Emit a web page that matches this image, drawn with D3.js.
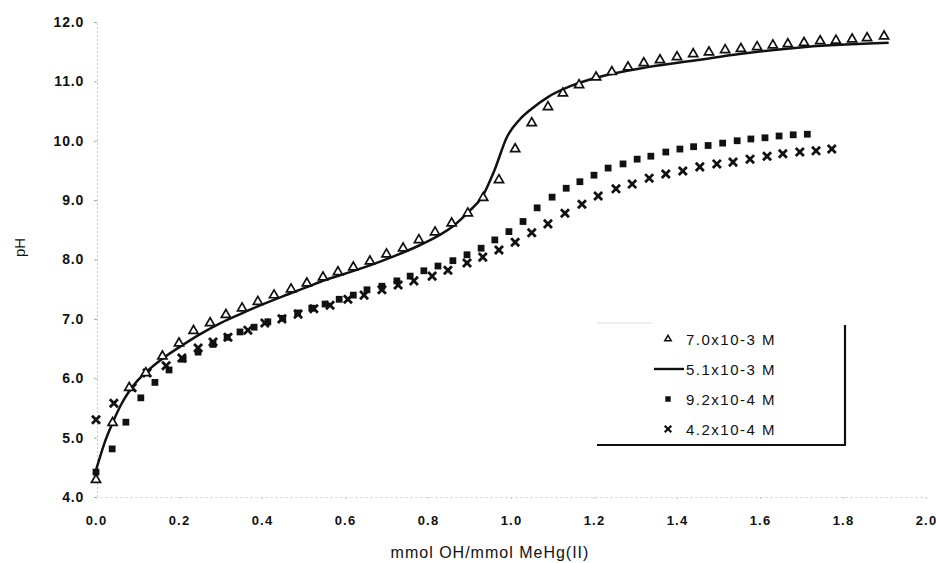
<!DOCTYPE html>
<html>
<head>
<meta charset="utf-8">
<script src="https://cdn.jsdelivr.net/npm/d3@7"></script>
<style>
  body { margin: 0; background: #fff; }
  text { font-family: "Liberation Sans", Arial, sans-serif; fill: #111; }
</style>
</head>
<body>
<div id="graph"></div>
<script>
// Data
var triX = [0, 0.04, 0.08, 0.12, 0.16, 0.2, 0.235, 0.275, 0.313, 0.352, 0.39, 0.429, 0.47, 0.508, 0.547, 0.583, 0.62, 0.66, 0.70, 0.74, 0.778, 0.817, 0.857, 0.896, 0.933, 0.971, 1.01, 1.05, 1.089, 1.125, 1.164, 1.205, 1.243, 1.282, 1.32, 1.359, 1.40, 1.439, 1.477, 1.516, 1.554, 1.593, 1.631, 1.667, 1.706, 1.745, 1.783, 1.822, 1.858, 1.899];
var triPH = [4.29, 5.25, 5.84, 6.09, 6.37, 6.59, 6.80, 6.93, 7.07, 7.18, 7.29, 7.40, 7.50, 7.60, 7.70, 7.79, 7.87, 7.97, 8.09, 8.19, 8.33, 8.46, 8.61, 8.78, 9.04, 9.34, 9.86, 10.30, 10.57, 10.80, 10.94, 11.07, 11.16, 11.24, 11.31, 11.36, 11.41, 11.46, 11.49, 11.53, 11.55, 11.58, 11.61, 11.63, 11.65, 11.68, 11.69, 11.71, 11.73, 11.76];

var lineX = [0, 0.02, 0.04, 0.06, 0.08, 0.10, 0.12, 0.16, 0.20, 0.25, 0.30, 0.35, 0.40, 0.45, 0.51, 0.55, 0.60, 0.66, 0.72, 0.78, 0.82, 0.86, 0.90, 0.93, 0.96, 0.99, 1.02, 1.05, 1.09, 1.14, 1.21, 1.33, 1.45, 1.55, 1.71, 1.91];
var linePH = [4.45, 4.90, 5.25, 5.55, 5.78, 5.96, 6.10, 6.33, 6.52, 6.74, 6.93, 7.09, 7.24, 7.38, 7.54, 7.65, 7.76, 7.90, 8.06, 8.24, 8.38, 8.56, 8.82, 9.05, 9.50, 10.06, 10.35, 10.54, 10.74, 10.91, 11.07, 11.24, 11.36, 11.46, 11.58, 11.65];

var sqX = [0, 0.039, 0.072, 0.108, 0.142, 0.176, 0.21, 0.246, 0.282, 0.316, 0.347, 0.381, 0.414, 0.45, 0.486, 0.52, 0.552, 0.586, 0.62, 0.653, 0.689, 0.725, 0.757, 0.79, 0.824, 0.86, 0.894, 0.928, 0.961, 0.995, 1.029, 1.063, 1.099, 1.133, 1.166, 1.2, 1.234, 1.27, 1.304, 1.337, 1.373, 1.407, 1.44, 1.475, 1.51, 1.545, 1.578, 1.612, 1.646, 1.68, 1.714];
var sqPH = [4.42, 4.81, 5.26, 5.67, 5.93, 6.14, 6.32, 6.44, 6.57, 6.69, 6.78, 6.86, 6.95, 7.01, 7.10, 7.18, 7.25, 7.33, 7.40, 7.49, 7.55, 7.64, 7.72, 7.81, 7.89, 7.98, 8.08, 8.19, 8.33, 8.47, 8.64, 8.87, 9.05, 9.20, 9.31, 9.42, 9.54, 9.61, 9.69, 9.74, 9.81, 9.86, 9.90, 9.92, 9.96, 10.00, 10.03, 10.05, 10.08, 10.10, 10.11];

var crossX = [0, 0.043, 0.087, 0.123, 0.169, 0.207, 0.246, 0.282, 0.318, 0.366, 0.407, 0.448, 0.487, 0.525, 0.564, 0.607, 0.646, 0.689, 0.728, 0.766, 0.81, 0.848, 0.894, 0.932, 0.971, 1.01, 1.05, 1.089, 1.13, 1.171, 1.21, 1.253, 1.292, 1.333, 1.373, 1.414, 1.455, 1.496, 1.535, 1.576, 1.617, 1.655, 1.696, 1.735, 1.773];
var crossPH = [5.30, 5.58, 5.84, 6.09, 6.21, 6.34, 6.51, 6.61, 6.69, 6.81, 6.93, 7.00, 7.08, 7.17, 7.23, 7.33, 7.40, 7.49, 7.57, 7.64, 7.72, 7.82, 7.94, 8.04, 8.16, 8.29, 8.45, 8.60, 8.78, 8.93, 9.07, 9.19, 9.27, 9.37, 9.44, 9.49, 9.56, 9.61, 9.64, 9.69, 9.74, 9.78, 9.81, 9.83, 9.86];

var xTicks = [0, 0.2, 0.4, 0.6, 0.8, 1.0, 1.2, 1.4, 1.6, 1.8, 2.0];
var yTicks = [4, 5, 6, 7, 8, 9, 10, 11, 12];
var legendLabels = ["7.0x10-3 M", "5.1x10-3 M", "9.2x10-4 M", "4.2x10-4 M"];

// Canvas
var margin = { top: 22, right: 10, bottom: 66, left: 96 },
    width = 936 - margin.left - margin.right,
    height = 563 - margin.top - margin.bottom;

var svgRoot = d3.select("#graph").append("svg")
    .attr("width", 936)
    .attr("height", 563);
var svg = svgRoot.append("g")
    .attr("transform", "translate(" + margin.left + "," + margin.top + ")");

var x = d3.scaleLinear().domain([0, 2]).range([0, 830]);
var y = d3.scaleLinear().domain([4, 12]).range([height, 0]);

function zip(a, b) { return a.map(function(v, i) { return [v, b[i]]; }); }

// Y axis (faint, like the scan)
var yAxis = svg.append("g")
    .attr("transform", "translate(1,0)")
    .call(d3.axisLeft(y).tickValues(yTicks).tickSize(3).tickPadding(10)
        .tickFormat(d3.format(".1f")));
yAxis.select(".domain").attr("stroke", "#c8c8c8").attr("stroke-dasharray", "2,2");
yAxis.selectAll(".tick line").attr("stroke", "#aaa");
yAxis.selectAll(".tick text")
    .style("font-size", "14px").style("font-weight", "bold").style("letter-spacing", "0.8px");

// X axis
var xAxis = svg.append("g")
    .attr("transform", "translate(0," + height + ")")
    .call(d3.axisBottom(x).tickValues(xTicks).tickSize(2).tickPadding(17)
        .tickFormat(d3.format(".1f")));
xAxis.select(".domain").attr("stroke", "#dcdcdc").attr("stroke-dasharray", "3,2");
xAxis.selectAll(".tick line").attr("stroke", "#ccc");
xAxis.selectAll(".tick text")
    .style("font-size", "13px").style("font-weight", "bold").style("letter-spacing", "1.2px");

// Axis titles
svg.append("text")
    .attr("x", 394).attr("y", height + 61)
    .attr("text-anchor", "middle")
    .style("font-size", "16px").style("letter-spacing", "1px")
    .text("mmol OH/mmol MeHg(II)");

svg.append("text")
    .attr("transform", "translate(-71," + (height / 2 - 12) + ") rotate(-90)")
    .attr("text-anchor", "middle")
    .style("font-size", "15px")
    .text("pH");

// Fitted line
var valueline = d3.line()
    .x(function(d) { return x(d[0]); })
    .y(function(d) { return y(d[1]); })
    .curve(d3.curveMonotoneX);

svg.append("path")
    .datum(zip(lineX, linePH))
    .attr("fill", "none")
    .attr("stroke", "#111")
    .attr("stroke-width", 2.5)
    .attr("d", valueline);

// Markers
var tri = d3.symbol().type(d3.symbolTriangle).size(36);
var sq = d3.symbol().type(d3.symbolSquare).size(46);
var cross = d3.symbol().type(d3.symbolTimes).size(44);

svg.append("g").selectAll("path")
    .data(zip(sqX, sqPH)).enter().append("path")
    .attr("transform", function(d) { return "translate(" + x(d[0]) + "," + y(d[1]) + ")"; })
    .attr("d", sq)
    .attr("fill", "#111");

svg.append("g").selectAll("path")
    .data(zip(crossX, crossPH)).enter().append("path")
    .attr("transform", function(d) { return "translate(" + x(d[0]) + "," + y(d[1]) + ")"; })
    .attr("d", cross)
    .attr("fill", "none")
    .attr("stroke", "#111")
    .attr("stroke-width", 2.8);

svg.append("g").selectAll("path")
    .data(zip(triX, triPH)).enter().append("path")
    .attr("transform", function(d) { return "translate(" + x(d[0]) + "," + y(d[1]) + ")"; })
    .attr("d", tri)
    .attr("fill", "#fff")
    .attr("stroke", "#111")
    .attr("stroke-width", 1.7);

// Legend
var legend = svgRoot.append("g").attr("transform", "translate(597,323)");
legend.append("line").attr("x1", 0).attr("x2", 55).attr("y1", 0).attr("y2", 0)
    .attr("stroke", "#ddd").attr("stroke-width", 1);
legend.append("line").attr("x1", 248).attr("x2", 248).attr("y1", 2).attr("y2", 122)
    .attr("stroke", "#111").attr("stroke-width", 2.2);
legend.append("line").attr("x1", 0).attr("x2", 249).attr("y1", 122).attr("y2", 122)
    .attr("stroke", "#111").attr("stroke-width", 2.2);

var rows = legend.selectAll(".row").data(legendLabels).enter().append("g")
    .attr("transform", function(d, i) { return "translate(0," + (16 + i * 30) + ")"; });

rows.append("text")
    .attr("x", 89).attr("y", 5.5)
    .style("font-size", "15px").style("letter-spacing", "1.5px")
    .text(function(d) { return d; });

rows.filter(function(d, i) { return i === 0; }).append("path")
    .attr("transform", "translate(71,0)")
    .attr("d", d3.symbol().type(d3.symbolTriangle).size(18))
    .attr("fill", "#fff").attr("stroke", "#111").attr("stroke-width", 1.5);
rows.filter(function(d, i) { return i === 1; }).append("line")
    .attr("x1", 57).attr("x2", 87).attr("y1", 0).attr("y2", 0)
    .attr("stroke", "#111").attr("stroke-width", 2.4);
rows.filter(function(d, i) { return i === 2; }).append("path")
    .attr("transform", "translate(71,0)")
    .attr("d", d3.symbol().type(d3.symbolSquare).size(30))
    .attr("fill", "#111");
rows.filter(function(d, i) { return i === 3; }).append("path")
    .attr("transform", "translate(71,0)")
    .attr("d", d3.symbol().type(d3.symbolTimes).size(30))
    .attr("fill", "none").attr("stroke", "#111").attr("stroke-width", 2.2);
</script>
</body>
</html>
